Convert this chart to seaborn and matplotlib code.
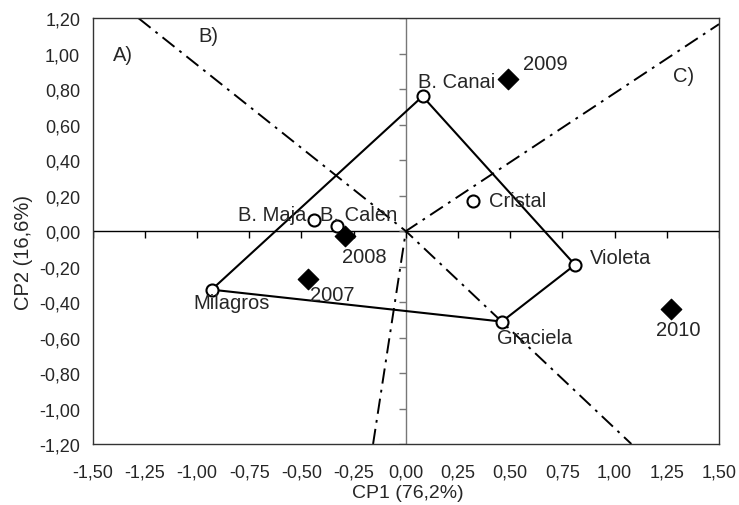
import matplotlib
matplotlib.use("Agg")
import matplotlib.pyplot as plt
import seaborn as sns
import pandas as pd

# cultivars (open circles)
cultivars = ["B. Canai", "Cristal", "Violeta", "Graciela", "Milagros", "B. Maja", "B. Calen"]
cult_x = [0.08, 0.32, 0.81, 0.46, -0.93, -0.44, -0.33]
cult_y = [0.76, 0.17, -0.19, -0.51, -0.33, 0.06, 0.03]

# years (filled diamonds)
years = ["2007", "2008", "2009", "2010"]
year_x = [-0.47, -0.29, 0.49, 1.27]
year_y = [-0.27, -0.03, 0.86, -0.44]

# hull around cultivars
hull = ["Milagros", "B. Canai", "Violeta", "Graciela", "Milagros"]

# dash-dot axes through origin
line_b_x = [-1.28, 0.0, 1.08]
line_b_y = [1.20, 0.0, -1.20]
line_c_x = [-0.157, 0.0, 1.50]
line_c_y = [-1.20, 0.0, 1.167]

xticks = [-1.5, -1.25, -1.0, -0.75, -0.5, -0.25, 0.0, 0.25, 0.5, 0.75, 1.0, 1.25, 1.5]
yticks = [-1.2, -1.0, -0.8, -0.6, -0.4, -0.2, 0.0, 0.2, 0.4, 0.6, 0.8, 1.0, 1.2]

cult_df = pd.DataFrame({"name": cultivars, "x": cult_x, "y": cult_y})
year_df = pd.DataFrame({"name": years, "x": year_x, "y": year_y})

sns.set_style("white")
plt.rcParams["font.family"] = ["Liberation Sans", "DejaVu Sans"]
plt.rcParams["lines.scale_dashes"] = False

fig = plt.figure(figsize=(7.39, 5.06), dpi=100)
ax = fig.add_axes([0.1254, 0.1206, 0.8476, 0.8413])

ax.axhline(0, color="black", lw=1, zorder=1)
ax.axvline(0, color="#777777", lw=1, zorder=1)
ax.plot(xticks, [0] * len(xticks), ls="none", marker=3, ms=5, mew=1, color="black", zorder=1)
ax.plot([0] * len(yticks), yticks, ls="none", marker=0, ms=5, mew=1, color="#777777", zorder=1)

dd = (11, 4.5, 2, 4.5)
ax.plot(line_b_x, line_b_y, color="black", lw=1.4, dashes=dd, zorder=2)
ax.plot(line_c_x, line_c_y, color="black", lw=1.4, dashes=dd, zorder=2)

hx = [cult_x[cultivars.index(n)] for n in hull]
hy = [cult_y[cultivars.index(n)] for n in hull]
ax.plot(hx, hy, color="black", lw=1.5, zorder=3)

sns.scatterplot(data=cult_df, x="x", y="y", marker="o", s=75, facecolor="white",
                edgecolor="black", linewidth=1.5, ax=ax, zorder=4)
sns.scatterplot(data=year_df, x="x", y="y", marker="D", s=110, color="black",
                edgecolor="black", ax=ax, zorder=4)

label_pos = {
    "B. Canai": (0.245, 0.843), "Cristal": (0.537, 0.175), "Violeta": (1.03, -0.146),
    "Graciela": (0.616, -0.597), "Milagros": (-0.837, -0.40), "B. Maja": (-0.641, 0.094),
    "B. Calen": (-0.224, 0.094), "2007": (-0.354, -0.36), "2008": (-0.20, -0.143),
    "2009": (0.669, 0.945), "2010": (1.304, -0.557),
    "A)": (-1.357, 0.993), "B)": (-0.947, 1.105), "C)": (1.328, 0.88),
}
for name, (tx, ty) in label_pos.items():
    ax.text(tx, ty, name, fontsize=14.5, ha="center", va="center", zorder=5)

ax.set_xlim(-1.5, 1.5)
ax.set_ylim(-1.2, 1.2)
ax.set_xticks(xticks)
ax.set_yticks(yticks)
ax.set_xticklabels([f"{v:.2f}".replace(".", ",") for v in xticks])
ax.set_yticklabels([f"{v:.2f}".replace(".", ",") for v in yticks])
ax.tick_params(axis="both", length=0, labelsize=13)
ax.tick_params(axis="x", pad=14)
ax.tick_params(axis="y", pad=9)
ax.set_xlabel("CP1 (76,2%)", fontsize=14)
ax.set_ylabel("CP2 (16,6%)", fontsize=14.5)
ax.xaxis.set_label_coords(0.5026, -0.093)
ax.yaxis.label.set_va("center")
ax.yaxis.set_label_coords(-0.111, 0.451)
for sp in ax.spines.values():
    sp.set_color("#333333")
    sp.set_linewidth(1)
ax.grid(False)

fig.savefig("out.png", dpi=100)
